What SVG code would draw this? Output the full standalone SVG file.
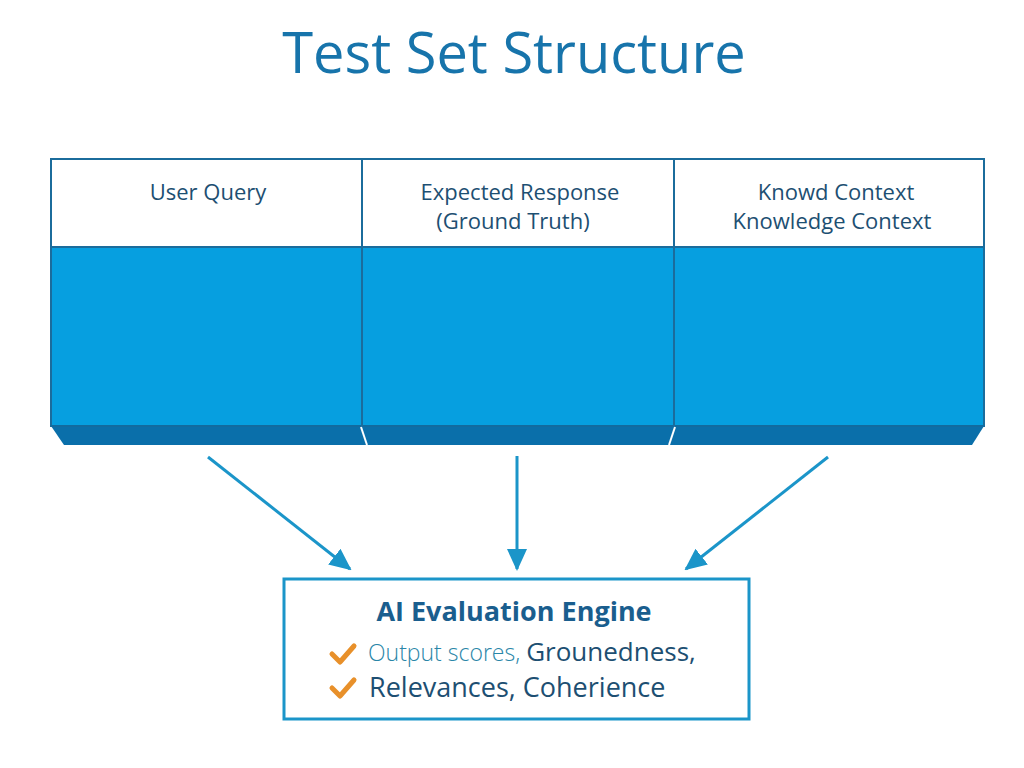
<svg xmlns="http://www.w3.org/2000/svg" width="1024" height="768" viewBox="0 0 1024 768">
<defs>
<style>
.hdr{font-family:"Open Sans","Noto Sans",sans-serif;font-size:22px;fill:#1d4f72;text-anchor:middle}
.title{font-family:"Open Sans","Noto Sans",sans-serif;font-size:56px;fill:#1774ab;text-anchor:middle}
.conn{stroke:#1b95c9;stroke-width:3;fill:none}
.chk{stroke:#e8902a;stroke-width:5;fill:none;stroke-linecap:round;stroke-linejoin:round}
.body{font-family:"Open Sans","Noto Sans",sans-serif;fill:#1d4f72}
</style>
<marker id="ah" markerWidth="22" markerHeight="20" refX="20" refY="10" orient="auto" markerUnits="userSpaceOnUse" viewBox="0 0 22 20">
<path d="M0,0 L22,10 L0,20 z" fill="#1b95c9"/>
</marker>
</defs>
<rect width="1024" height="768" fill="#ffffff"/>
<text class="title" x="514" y="73">Test Set Structure</text>

<g id="table">
  <polygon points="51,426 984,426 972,445 64,445" fill="#0a6faa"/>
  <rect x="51" y="247" width="933" height="179" fill="#069fe0" stroke="#1b6c9c" stroke-width="2"/>
  <rect x="51" y="159" width="933" height="88" fill="#ffffff" stroke="#1b6c9c" stroke-width="2"/>
  <line x1="51" y1="426" x2="984" y2="426" stroke="#0b6ba3" stroke-width="1"/>
</g>
<g id="col-user-query">
  <line x1="362" y1="159" x2="362" y2="426" stroke="#1b6c9c" stroke-width="2"/>
  <text class="hdr" x="208" y="200">User Query</text>
</g>
<g id="col-expected-response">
  <line x1="674" y1="159" x2="674" y2="426" stroke="#1b6c9c" stroke-width="2"/>
  <line x1="361" y1="427" x2="367" y2="445" stroke="#ffffff" stroke-width="2"/>
  <line x1="675" y1="427" x2="669" y2="445" stroke="#ffffff" stroke-width="2"/>
  <text class="hdr" x="520" y="200">Expected Response</text>
  <text class="hdr" x="513" y="229">(Ground Truth)</text>
</g>
<g id="col-knowledge-context">
  <text class="hdr" x="836" y="200">Knowd Context</text>
  <text class="hdr" x="832" y="229">Knowledge Context</text>
</g>

<g id="connectors">
  <line class="conn" x1="208" y1="457" x2="350" y2="569" marker-end="url(#ah)"/>
  <line class="conn" x1="517" y1="456" x2="517" y2="569" marker-end="url(#ah)"/>
  <line class="conn" x1="828" y1="457" x2="686" y2="569" marker-end="url(#ah)"/>
</g>

<g id="engine">
  <rect x="284" y="579" width="465" height="140" fill="#ffffff" stroke="#1b95c9" stroke-width="3"/>
  <text x="514" y="621" font-family="'Open Sans','Noto Sans',sans-serif" font-weight="bold" font-size="27" fill="#1a5e8e" text-anchor="middle">AI Evaluation Engine</text>
  <path class="chk" d="M332,654 L340,662 L354,646"/>
  <text x="368" y="661" class="body"><tspan font-size="23" fill="#2a86a8" font-weight="300">Output scores, </tspan><tspan font-size="26">Grounedness,</tspan></text>
  <path class="chk" d="M332,688 L340,696 L354,680"/>
  <text x="369" y="697" class="body" font-size="27">Relevances, Coherience</text>
</g>
</svg>
